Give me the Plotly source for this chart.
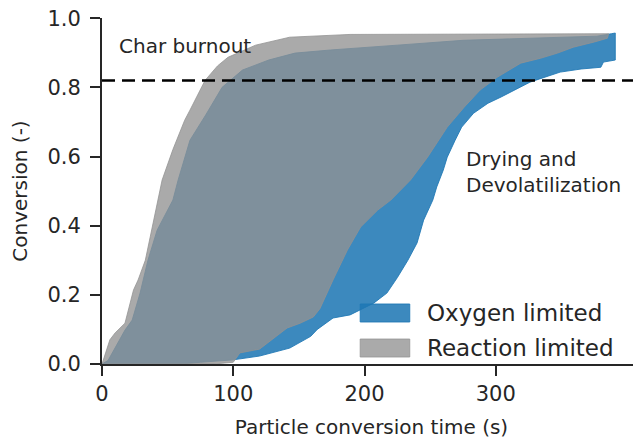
import plotly.graph_objects as go

# Oxygen limited band (blue): upper and lower envelope, time [s] vs conversion [-]
oxy_upper_t = [0, 4.6, 17.5, 23, 29, 35, 42, 54, 58, 67, 79, 91.5, 107, 127, 147, 174, 225, 275, 326, 377, 388, 391]
oxy_upper_x = [0, 0.01, 0.098, 0.127, 0.205, 0.30, 0.387, 0.474, 0.532, 0.647, 0.72, 0.80, 0.85, 0.879, 0.899, 0.908, 0.922, 0.936, 0.942, 0.948, 0.955, 0.957]
oxy_lower_t = [0, 60, 75, 100, 120, 143, 151, 159, 164, 176, 189, 207, 217, 225, 233, 240, 245, 252, 255, 260, 263, 269, 274, 283, 294, 304, 326, 349, 365, 380, 382, 391]
oxy_lower_x = [0, 0, 0.005, 0.012, 0.023, 0.046, 0.062, 0.08, 0.10, 0.133, 0.142, 0.176, 0.205, 0.25, 0.30, 0.35, 0.416, 0.474, 0.512, 0.561, 0.598, 0.647, 0.685, 0.725, 0.754, 0.772, 0.815, 0.844, 0.853, 0.858, 0.873, 0.879]

# Reaction limited band (grey)
rxn_upper_t = [0, 1, 6, 10, 17.5, 24, 27.5, 33, 42.7, 45.8, 54, 63, 67, 78.5, 88, 96, 117, 143, 189, 250, 300, 350, 386]
rxn_upper_x = [0, 0.012, 0.07, 0.09, 0.118, 0.214, 0.243, 0.30, 0.474, 0.532, 0.62, 0.705, 0.734, 0.82, 0.862, 0.887, 0.922, 0.945, 0.953, 0.954, 0.955, 0.955, 0.955]
rxn_lower_t = [0, 85, 100, 105, 120, 141, 151, 161, 166, 176, 187, 197, 210, 220, 235, 248, 263, 276, 288, 301, 319, 334, 347, 359, 375, 385, 386]
rxn_lower_x = [0, 0, 0.005, 0.032, 0.043, 0.104, 0.118, 0.136, 0.16, 0.243, 0.33, 0.396, 0.445, 0.474, 0.532, 0.598, 0.685, 0.743, 0.792, 0.829, 0.87, 0.884, 0.899, 0.916, 0.931, 0.942, 0.955]

char_burnout = 0.82

FONT = "DejaVu Sans"
INK = "#262626"
BLUE = "rgba(31,119,180,0.87)"
GREY = "rgba(146,146,146,0.78)"


def band(t_up, x_up, t_lo, x_lo, name, fill):
    return go.Scatter(x=t_up + t_lo[::-1], y=x_up + x_lo[::-1], fill="toself",
                      mode="lines", name=name, fillcolor=fill, showlegend=False,
                      line=dict(color=fill, width=1))


fig = go.Figure()
fig.add_trace(band(oxy_upper_t, oxy_upper_x, oxy_lower_t, oxy_lower_x, "Oxygen limited", BLUE))
fig.add_trace(band(rxn_upper_t, rxn_upper_x, rxn_lower_t, rxn_lower_x, "Reaction limited", GREY))

fig.add_hline(y=char_burnout, line=dict(color="black", width=2.5, dash="13px,7px"))

fig.add_annotation(x=11.4, y=0.919, text="Char burnout", showarrow=False,
                   xanchor="left", yanchor="middle", font=dict(size=20, color=INK))
fig.add_annotation(x=275.4, y=0.555, text="Drying and<br>Devolatilization", showarrow=False,
                   xanchor="left", yanchor="middle", align="left", font=dict(size=20, color=INK))

# legend drawn by hand so the swatches get matplotlib-like boxes
legend_items = [("Oxygen limited", BLUE, 0.1474), ("Reaction limited", GREY, 0.0462)]
for label, col, yc in legend_items:
    fig.add_shape(type="rect", xref="paper", yref="paper", x0=0.479, x1=0.571,
                  y0=yc - 0.026, y1=yc + 0.026, fillcolor=col, line=dict(color=col, width=1))
    fig.add_annotation(xref="paper", yref="paper", x=0.6, y=yc, text=label, showarrow=False,
                       xanchor="left", yanchor="middle", font=dict(size=23, color=INK))

axis_common = dict(showline=True, linecolor=INK, linewidth=2, ticks="outside",
                   ticklen=10, tickwidth=2, tickcolor=INK, showgrid=False, zeroline=False,
                   tickfont=dict(size=21, color=INK), title_font=dict(size=20, color=INK),
                   ticklabeloverflow="allow", automargin=False)

fig.update_xaxes(range=[0, 410.6], tickvals=[0, 100, 200, 300],
                 title_text="Particle conversion time (s)", **axis_common)
fig.update_yaxes(range=[0, 1.0005], tickvals=[0, 0.2, 0.4, 0.6, 0.8, 1.0], tickformat=".1f",
                 title_text="Conversion (-)", ticklabelstandoff=5, **axis_common)

# the page body adds an 8 px offset, so the figure is 8 px smaller than the window
fig.update_layout(
    width=633, height=434, template="plotly_white",
    font=dict(family=FONT, color=INK),
    plot_bgcolor="white", paper_bgcolor="white",
    margin=dict(l=94, r=0, t=10, b=78),
    showlegend=False,
)

fig.write_html("out.html")
